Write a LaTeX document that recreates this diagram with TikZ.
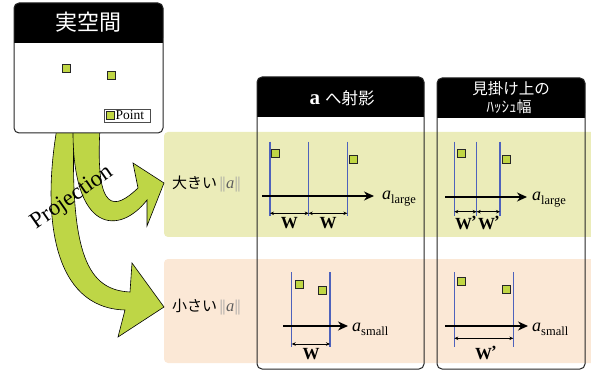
\documentclass[tikz,border=0pt]{standalone}
\usepackage{fontspec}
\setmainfont{Liberation Serif}
\newfontfamily\jp{Noto Sans CJK JP}
\usetikzlibrary{arrows.meta}

\definecolor{ptfill}{RGB}{192,214,68}
\definecolor{bigarrow}{RGB}{190,214,70}
\definecolor{bandlarge}{RGB}{235,236,185}
\definecolor{bandsmall}{RGB}{251,232,214}
\definecolor{projline}{RGB}{78,98,188}
\definecolor{normgray}{RGB}{160,160,160}
\definecolor{normletter}{RGB}{95,95,95}

\newcommand{\fs}[1]{\fontsize{#1}{#1}\selectfont}
\newcommand{\normof}{{\rmfamily\color{normgray}\textbar\kern-0.6pt\textbar\kern0.3pt{\color{normletter}\textit{a}}\kern0.3pt\textbar\kern-0.6pt\textbar}}
\newcommand{\axislabel}[1]{{\fs{18}\textit{a}}\raisebox{-4pt}{\fs{12.5}#1}}

\begin{document}
\begin{tikzpicture}[x=1pt,y=-1pt,
  pointbox/.style={draw=black!85,fill=ptfill,line width=0.7pt,minimum size=8pt,inner sep=0pt},
  projrule/.style={draw=projline,line width=1.1pt},
  axisarrow/.style={-{Stealth[length=10pt,width=9pt]},line width=1.4pt},
  spanarrow/.style={{Stealth[length=4pt,width=3.5pt]}-{Stealth[length=4pt,width=3.5pt]},line width=0.6pt},
  wlabel/.style={font=\bfseries\fs{17},inner sep=0pt},
  alabel/.style={anchor=west,inner sep=0pt},
  panelframe/.style={draw=black!85,line width=1pt,rounded corners=5pt},
  headfill/.style={fill=black,rounded corners=5pt},
  bigarrowstyle/.style={fill=bigarrow,draw=black,line width=0.6pt,line join=miter},
  rowlabel/.style={anchor=west,inner sep=0pt}
]
\useasboundingbox (0,0) rectangle (591,371);

% coloured rows
\fill[bandlarge,rounded corners=4pt] (164,132) rectangle (600,237);
\fill[bandsmall,rounded corners=4pt] (164,259) rectangle (600,363);

% projection arrows
\draw[bigarrowstyle] (57,128) .. controls (42,215) and (52,308) .. (125,310)
  -- (118,337) -- (164,307) -- (132,263) -- (130,292)
  .. controls (88,290) and (70,255) .. (74,128) -- cycle;
\draw[bigarrowstyle] (73,128) .. controls (72,235) and (120,235) .. (147,200)
  -- (147,226) -- (164,183) -- (133,163) -- (138,188)
  .. controls (115,210) and (95,215) .. (100,128) -- cycle;
\node[rotate=35,inner sep=0pt,font=\fs{23}] (projtext) at (72,198) {Projection};

% real space box
\fill[white,rounded corners=5pt] (14,3) rectangle (163,133);
\fill[headfill] (14,3) rectangle (163,43);
\fill[black] (14,22) rectangle (163,43);
\draw[panelframe] (14,3) rectangle (163,133);
\node[text=white,font=\jp\fs{22}] (realtitle) at (88.5,22.5) {実空間};
\node[pointbox] (r1) at (66.5,68) {};
\node[pointbox] (r2) at (111.5,75) {};
\draw[black!70,line width=0.6pt] (104.5,109) rectangle (150,122);
\node[pointbox,minimum size=7.5pt] (legpt) at (110.5,115.5) {};
\node[anchor=west,inner sep=0pt,font=\fs{13.5}] (legtext) at (115.5,115.5) {Point};

% row labels
\node[rowlabel] (rowlarge) at (172,184) {{\jp\fs{15}大きい} {\fs{16.5}\normof}};
\node[rowlabel] (rowsmall) at (172,307) {{\jp\fs{15}小さい} {\fs{16.5}\normof}};

% projection panel
\fill[headfill] (257,77) rectangle (424,117);
\fill[black] (257,97) rectangle (424,117);
\draw[panelframe] (257,77) rectangle (424,369);
\node[text=white,inner sep=0pt] (projtitle) at (342,98) {{\bfseries\fs{21}a}\hspace{5pt}{\jp\fs{16.5}へ射影}};

% apparent width panel
\fill[headfill] (437,78) rectangle (585,118);
\fill[black] (437,98) rectangle (585,118);
\draw[panelframe] (437,78) rectangle (585,369);
\node[text=white,font=\jp\fs{15.5},inner sep=0pt] (apptitle1) at (511,89) {見掛け上の};
\node[text=white,font=\jp\fs{15},inner sep=0pt] (apptitle2) at (509,107) {ﾊｯｼｭ幅};

% ---- large norm, projection panel
\draw[projrule] (270,141.7) -- (270,215.7);
\draw[projrule] (308.7,141.7) -- (308.7,215.7);
\draw[projrule] (347.3,141.7) -- (347.3,215.7);
\node[pointbox] (p1) at (275.5,153.5) {};
\node[pointbox] (p2) at (353.5,159.5) {};
\coordinate (ax1s) at (262,196);
\coordinate (ax1e) at (374,196);
\draw[axisarrow] (ax1s) -- (ax1e);
\node[alabel] (lab1) at (382,199) {\axislabel{large}};
\coordinate (s1a) at (270,213.3);
\coordinate (s1b) at (308.7,213.3);
\coordinate (s1c) at (347.3,213.3);
\draw[spanarrow] (s1a) -- (s1b);
\draw[spanarrow] (s1b) -- (s1c);
\node[wlabel] (w1) at (289.3,223.5) {W};
\node[wlabel] (w2) at (328,223.5) {W};

% ---- large norm, apparent width panel
\draw[projrule] (454.3,141.7) -- (454.3,215.7);
\draw[projrule] (476.7,141.7) -- (476.7,215.7);
\draw[projrule] (500,141.7) -- (500,215.7);
\node[pointbox] (q1) at (461,153.5) {};
\node[pointbox] (q2) at (506.5,159.5) {};
\coordinate (ax2s) at (445,197);
\coordinate (ax2e) at (527,197);
\draw[axisarrow] (ax2s) -- (ax2e);
\node[alabel] (lab2) at (532,199.5) {\axislabel{large}};
\coordinate (s2a) at (454.3,211.7);
\coordinate (s2b) at (476.7,211.7);
\coordinate (s2c) at (500,211.7);
\draw[spanarrow] (s2a) -- (s2b);
\draw[spanarrow] (s2b) -- (s2c);
\node[wlabel] (w3) at (466,223) {W\kern-1pt\raisebox{2pt}{’}};
\node[wlabel] (w4) at (489,223) {W\kern-1pt\raisebox{2pt}{’}};

% ---- small norm, projection panel
\draw[projrule] (291.7,272.3) -- (291.7,346.7);
\draw[projrule] (330,272.3) -- (330,346.7);
\node[pointbox] (p3) at (299,284.3) {};
\node[pointbox] (p4) at (322.3,290) {};
\coordinate (ax3s) at (283,326);
\coordinate (ax3e) at (348,326);
\draw[axisarrow] (ax3s) -- (ax3e);
\node[alabel] (lab3) at (352,329) {\axislabel{small}};
\coordinate (s3a) at (291.7,344);
\coordinate (s3b) at (330,344);
\draw[spanarrow] (s3a) -- (s3b);
\node[wlabel] (w5) at (311,354) {W};

% ---- small norm, apparent width panel
\draw[projrule] (454.3,272.3) -- (454.3,346.7);
\draw[projrule] (513.3,272.3) -- (513.3,346.7);
\node[pointbox] (q3) at (461,281.7) {};
\node[pointbox] (q4) at (506.7,289) {};
\coordinate (ax4s) at (445,326);
\coordinate (ax4e) at (528,326);
\draw[axisarrow] (ax4s) -- (ax4e);
\node[alabel] (lab4) at (532,329) {\axislabel{small}};
\coordinate (s4a) at (454.3,338.3);
\coordinate (s4b) at (513.3,338.3);
\draw[spanarrow] (s4a) -- (s4b);
\node[wlabel] (w6) at (486,353) {W\kern-1pt\raisebox{2pt}{’}};
\end{tikzpicture}
\end{document}
